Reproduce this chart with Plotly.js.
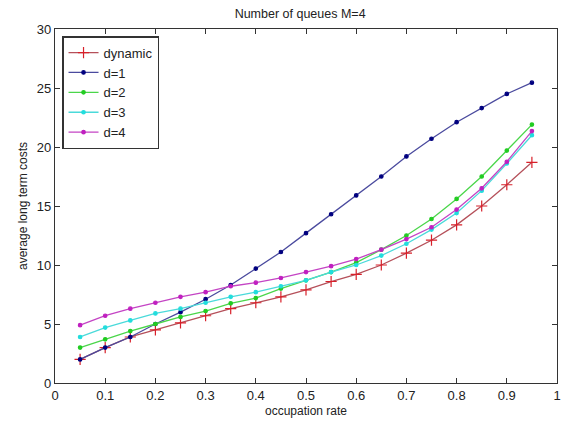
<!DOCTYPE html>
<html>
<head>
<meta charset="utf-8">
<script src="https://cdn.plot.ly/plotly-3.0.1.min.js"></script>
<style>html,body{margin:0;padding:0;background:#fff;}#chart{width:561px;height:423px;}</style>
</head>
<body>
<div id="chart"></div>
<script>
const occupation = [0.05,0.1,0.15,0.2,0.25,0.3,0.35,0.4,0.45,0.5,0.55,0.6,0.65,0.7,0.75,0.8,0.85,0.9,0.95];
const dynamicCost = [2.0,3.0,3.9,4.5,5.1,5.7,6.3,6.8,7.3,7.9,8.6,9.2,10.0,11.0,12.1,13.4,15.0,16.8,18.7];
const d1Cost = [2.0,3.0,3.9,5.0,6.0,7.1,8.3,9.7,11.1,12.7,14.3,15.9,17.5,19.2,20.7,22.1,23.3,24.5,25.45];
const d2Cost = [3.0,3.7,4.4,5.0,5.6,6.1,6.75,7.2,8.0,8.7,9.4,10.2,11.3,12.5,13.9,15.6,17.5,19.7,21.9];
const d3Cost = [3.9,4.7,5.3,5.9,6.3,6.8,7.3,7.7,8.2,8.7,9.4,10.0,10.8,11.8,13.0,14.4,16.3,18.6,21.0];
const d4Cost = [4.9,5.7,6.3,6.8,7.3,7.7,8.2,8.5,8.9,9.4,9.9,10.5,11.3,12.2,13.2,14.7,16.5,18.75,21.35];
const seriesNames = ['dynamic','d=1','d=2','d=3','d=4'];

function tr(y, name, lineColor, markerColor, symbol, size) {
  return {x: occupation, y: y, name: name, type: 'scatter', mode: 'lines+markers',
    line: {color: lineColor, width: 1.3},
    marker: {color: markerColor, symbol: symbol, size: size, line: {color: markerColor, width: 1.2}}};
}
const data = [
  tr(dynamicCost, seriesNames[0], '#b5505a', '#d8202a', 'cross-thin-open', 8),
  tr(d1Cost, seriesNames[1], '#4a4a9e', '#00007f', 'circle', 3.5),
  tr(d2Cost, seriesNames[2], '#4ad64a', '#22cc22', 'circle', 3.5),
  tr(d3Cost, seriesNames[3], '#4adada', '#22dddd', 'circle', 3.5),
  tr(d4Cost, seriesNames[4], '#c444c4', '#c020c0', 'circle', 3.5)
];
const axisCommon = {showgrid: false, zeroline: false, showline: true, linecolor: '#333', linewidth: 1.2,
  mirror: 'ticks', ticks: 'inside', ticklen: 5, tickcolor: '#333',
  tickfont: {family: 'Liberation Sans, Arial, sans-serif', size: 13, color: '#222'}};
const layout = {
  width: 561, height: 423,
  margin: {l: 55, r: 4, t: 29, b: 40},
  paper_bgcolor: '#fff', plot_bgcolor: '#fff',
  title: {text: 'Number of queues M=4', x: 0.535, xanchor: 'center', y: 0.967, yanchor: 'middle',
    font: {family: 'Liberation Sans, Arial, sans-serif', size: 12.5, color: '#222'}},
  xaxis: Object.assign({}, axisCommon, {range: [0, 1], tickvals: [0,0.1,0.2,0.3,0.4,0.5,0.6,0.7,0.8,0.9,1],
    ticktext: ['0','0.1','0.2','0.3','0.4','0.5','0.6','0.7','0.8','0.9','1'],
    title: {text: 'occupation rate', standoff: 4, font: {family: 'Liberation Sans, Arial, sans-serif', size: 12, color: '#222'}}}),
  yaxis: Object.assign({}, axisCommon, {range: [0, 30], tickvals: [0,5,10,15,20,25,30],
    title: {text: 'average long term costs', standoff: 6, font: {family: 'Liberation Sans, Arial, sans-serif', size: 12, color: '#222'}}}),
  showlegend: true,
  legend: {x: 0.014, y: 0.98, xanchor: 'left', yanchor: 'top', bgcolor: '#fff', bordercolor: '#333', borderwidth: 1.5,
    font: {family: 'Liberation Sans, Arial, sans-serif', size: 13, color: '#222'}, tracegroupgap: 0, itemwidth: 30}
};
Plotly.newPlot('chart', data, layout, {displayModeBar: false, staticPlot: true});
</script>
</body>
</html>
